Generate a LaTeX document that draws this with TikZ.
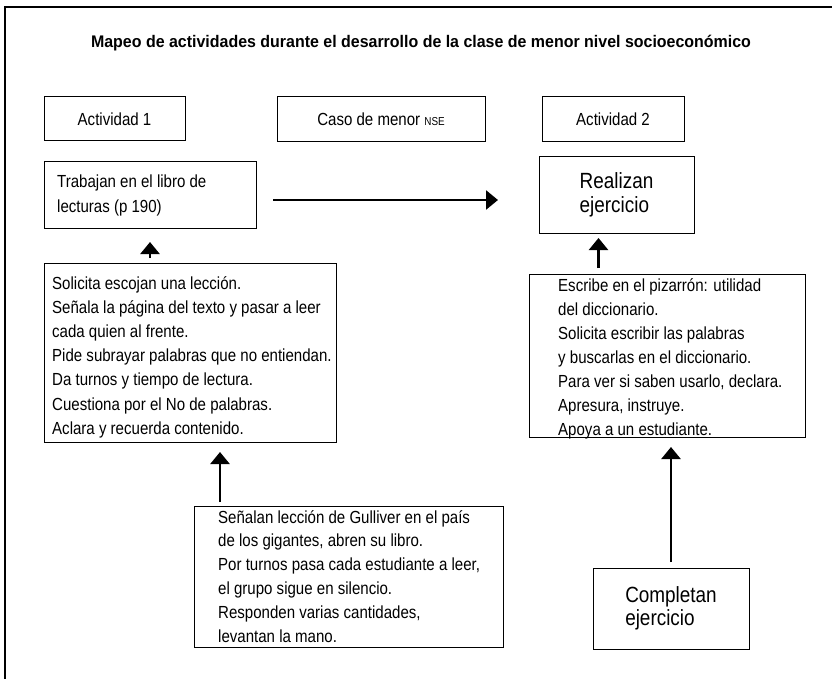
\documentclass[tikz,border=0pt]{standalone}
\usepackage{fontspec}
\setmainfont{Liberation Sans}[FakeStretch=0.86]
\newfontfamily\titlefam{Liberation Sans}[FakeStretch=0.95]
\usetikzlibrary{arrows.meta, calc}

\newcommand{\bodyfont}{\fontsize{17.5}{24}\selectfont}
\newcommand{\bigfont}{\fontsize{22}{23.5}\selectfont}
\newcommand{\titlefont}{\titlefam\fontsize{16.8}{20}\selectfont\bfseries}

\tikzset{
  frameline/.style={line width=1.1pt},
  box/.style={draw, line width=1pt, inner sep=0pt, outer sep=0pt, font=\bodyfont},
  txt/.style={inner sep=0pt, font=\bodyfont, anchor=base west},
  arrow/.style={-{Triangle[length=12pt,width=19pt]}, line width=2.4pt}
}

\begin{document}
\begin{tikzpicture}[x=1pt,y=-1pt]
  \useasboundingbox (0,0) rectangle (832,679);
  % open frame, left and top sides only
  \draw[frameline] (5,679) -- (5,7) -- (832,7);

  \node[font=\titlefont, inner sep=0pt, anchor=base] (title) at (421,47.5)
    {Mapeo de actividades durante el desarrollo de la clase de menor nivel socioeconómico};

  % header row
  \node[box, minimum width=141pt, minimum height=44pt] (act1) at (114.5,119) {Actividad 1};
  \node[box, minimum width=208pt, minimum height=45pt] (caso) at (381,119.5)
    {Caso de menor {\fontsize{11.5}{12}\selectfont NSE}};
  \node[box, minimum width=142pt, minimum height=45pt] (act2) at (613,119.5) {Actividad 2};

  % second row
  \node[box, minimum width=212pt, minimum height=66pt] (trab) at (150,195) {};
  \foreach \t [count=\i from 0] in {{Trabajan en el libro de}, {lecturas (p 190)}}
    \node[txt] (trabt\i) at (57,188+24*\i) {\t};
  \node[box, font=\bigfont, align=left, minimum width=155pt, minimum height=76pt] (real)
    at (616.5,195) {Realizan\\ejercicio};

  % detail boxes
  \node[box, minimum width=292pt, minimum height=179pt] (lbox) at (190,352.5) {};
  \foreach \t [count=\i from 0] in {%
      {Solicita escojan una lección.},
      {Señala la página del texto y pasar a leer},
      {cada quien al frente.},
      {Pide subrayar palabras que no entiendan.},
      {Da turnos y tiempo de lectura.},
      {Cuestiona por el No de palabras.},
      {Aclara y recuerda contenido.}}
    \node[txt] (lt\i) at (52,289+24.2*\i) {\t};

  \node[box, minimum width=276pt, minimum height=163pt] (rbox) at (667,355.5) {};
  \foreach \t [count=\i from 0] in {%
      {Escribe en el pizarrón: utilidad},
      {del diccionario.},
      {Solicita escribir las palabras},
      {y buscarlas en el diccionario.},
      {Para ver si saben usarlo, declara.},
      {Apresura, instruye.},
      {Apoya a un estudiante.}}
    \node[txt] (rt\i) at (558,291+24*\i) {\t};

  \node[box, minimum width=309pt, minimum height=141pt] (bbox) at (348.5,576.5) {};
  \foreach \t [count=\i from 0] in {%
      {Señalan lección de Gulliver en el país},
      {de los gigantes, abren su libro.},
      {Por turnos pasa cada estudiante a leer,},
      {el grupo sigue en silencio.},
      {Responden varias cantidades,},
      {levantan la mano.}}
    \node[txt] (bt\i) at (218,523+23.8*\i) {\t};

  \node[box, font=\bigfont, align=left, minimum width=156pt, minimum height=81pt] (comp)
    at (671,608.5) {Completan\\ejercicio};

  % connectors
  \coordinate (hstart) at ([yshift=-5pt]trab.east);
  \draw[arrow, shorten <=17pt, shorten >=41pt] (hstart) -- (hstart -| real.west);
  \draw[arrow, shorten <=5pt, shorten >=14pt] (lbox.north -| trab.south) -- (trab.south);
  \coordinate (rtip) at ([xshift=-18pt]real.south);
  \draw[arrow, shorten <=6pt, shorten >=5pt] (rtip |- rbox.north) -- (rtip);
  \coordinate (btip) at ([xshift=30pt]lbox.south);
  \draw[arrow, shorten <=4pt, shorten >=10pt] (btip |- bbox.north) -- (btip);
  \draw[arrow, shorten <=6pt, shorten >=10pt] (comp.north) -- (comp.north |- rbox.south);
\end{tikzpicture}
\end{document}
